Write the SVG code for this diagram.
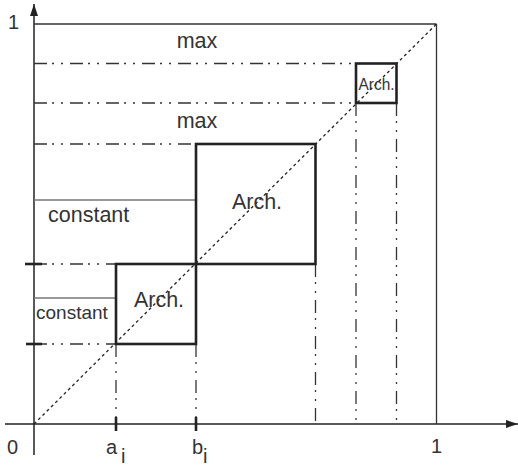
<svg xmlns="http://www.w3.org/2000/svg" width="518" height="466" viewBox="0 0 518 466">
<style>
  .axis { stroke: #222; stroke-width: 1.5; fill: none; }
  .thin { stroke: #333; stroke-width: 1.3; fill: none; }
  .light { stroke: #777; stroke-width: 1.3; fill: none; }
  .dd { stroke: #333; stroke-width: 1.3; fill: none; stroke-dasharray: 13 5 2 7 2 7; }
  .diag { stroke: #222; stroke-width: 1.3; fill: none; stroke-dasharray: 3 3; }
  .box { stroke: #222; stroke-width: 2.6; fill: none; }
  .tick { stroke: #222; stroke-width: 2.6; }
  text { font-family: "Liberation Sans", Arial, sans-serif; fill: #333; }
  .big { font-size: 21.5px; }
  .mid { font-size: 19px; }
  .small { font-size: 16.5px; }
  .lab { font-size: 20px; }
</style>
<defs>
  <marker id="arr" viewBox="0 0 12 8" refX="12" refY="4" markerWidth="12" markerHeight="8" markerUnits="userSpaceOnUse" orient="auto">
    <path d="M0,0 L12,4 L0,8 Z" fill="#222"/>
  </marker>
</defs>
<g id="connectors">
  <line class="axis" x1="34" y1="455" x2="34" y2="4" marker-end="url(#arr)"/>
  <line class="axis" x1="5" y1="424" x2="518" y2="424" marker-end="url(#arr)"/>
  <line class="thin" x1="34" y1="24" x2="436.5" y2="24"/>
  <line class="thin" x1="436.5" y1="24" x2="436.5" y2="424"/>
  <line class="diag" x1="34" y1="424" x2="436.5" y2="24"/>
  <line class="dd" x1="34" y1="63.5" x2="356" y2="63.5"/>
  <line class="dd" x1="34" y1="103" x2="356" y2="103"/>
  <line class="dd" x1="356" y1="103" x2="356" y2="424"/>
  <line class="dd" x1="396.5" y1="103" x2="396.5" y2="424"/>
  <line class="dd" x1="34" y1="144" x2="196" y2="144"/>
  <line class="light" x1="34" y1="200" x2="196" y2="200"/>
  <line class="dd" x1="315.5" y1="264" x2="315.5" y2="424"/>
  <line class="dd" x1="34" y1="264" x2="116" y2="264"/>
  <line class="light" x1="34" y1="298" x2="116" y2="298"/>
  <line class="dd" x1="34" y1="344" x2="116" y2="344"/>
  <line class="dd" x1="116" y1="344" x2="116" y2="424"/>
  <line class="dd" x1="196" y1="344" x2="196" y2="424"/>
  <line class="tick" x1="25" y1="264" x2="42" y2="264"/>
  <line class="tick" x1="26" y1="344" x2="42" y2="344"/>
  <line class="tick" x1="116" y1="417" x2="116" y2="431"/>
  <line class="tick" x1="196" y1="417" x2="196" y2="431"/>
</g>
<g id="arch-top">
  <rect class="box" x="356" y="63.5" width="40.5" height="39.5"/>
  <text class="small" x="376.5" y="90" text-anchor="middle" textLength="36" lengthAdjust="spacingAndGlyphs">Arch.</text>
</g>
<g id="arch-mid">
  <rect class="box" x="196" y="144" width="119.5" height="120"/>
  <text class="big" x="257" y="209" text-anchor="middle">Arch.</text>
</g>
<g id="arch-low">
  <rect class="box" x="116" y="264" width="80" height="80"/>
  <text class="big" x="159" y="307" text-anchor="middle">Arch.</text>
</g>
<g id="labels">
  <text class="big" x="197" y="48" text-anchor="middle">max</text>
  <text class="big" x="197" y="128" text-anchor="middle">max</text>
  <text class="big" x="48" y="222">constant</text>
  <text class="mid" x="36" y="319">constant</text>
  <text class="lab" x="7" y="454">0</text>
  <text class="lab" x="106" y="454">a</text>
  <text class="lab" x="121" y="463" font-size="16">i</text>
  <text class="lab" x="192" y="454">b</text>
  <text class="lab" x="203" y="463" font-size="16">i</text>
  <text class="lab" x="431" y="453">1</text>
  <text class="lab" x="8" y="29">1</text>
</g>
</svg>
